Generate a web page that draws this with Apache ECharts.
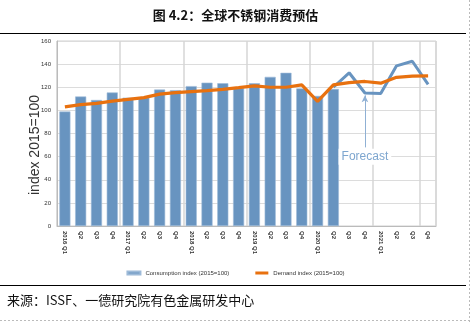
<!DOCTYPE html>
<html>
<head>
<meta charset="utf-8">
<script src="https://cdn.jsdelivr.net/npm/echarts@6/dist/echarts.min.js"></script>
<style>
html,body{margin:0;padding:0;background:#fff;}
#c{width:471px;height:322px;}
</style>
</head>
<body>
<div id="c"></div>
<script>
var categories = ['2016 Q1','Q2','Q3','Q4','2017 Q1','Q2','Q3','Q4','2018 Q1','Q2','Q3','Q4','2019 Q1','Q2','Q3','Q4','2020 Q1','Q2','Q3','Q4','2021 Q1','Q2','Q3','Q4'];
var consumption = [99,112,109,115.5,111,111,118,117.5,121,124,123.5,119.5,123.5,129,132.5,119,112.5,118.5,null,null,null,null,null,null];
var forecast = [null,null,null,null,null,null,null,null,null,null,null,null,null,null,null,null,null,120,132.5,115,114.5,138.5,142.5,122.5];
var demand = [103,105,106,108,109.5,111,114,115.3,116.2,117,118.2,119.6,121.2,120,120,122,107.8,122,124,125,123.5,128.6,129.6,129.8];
var yTicks = [0,20,40,60,80,100,120,140,160];

var chart = echarts.init(document.getElementById('c'));
chart.setOption({
  animation:false,
  textStyle:{fontFamily:'Liberation Sans, Arial, sans-serif'},
  graphic:[
    {type:'text',left:'center',top:9,style:{text:'图 4.2：全球不锈钢消费预估',font:'bold 13px "Noto Sans CJK SC"',fill:'#111'}},
    {type:'line',shape:{x1:0,y1:33.5,x2:466,y2:33.5},style:{stroke:'#000',lineWidth:1}},
    {type:'line',shape:{x1:0,y1:285.5,x2:466,y2:285.5},style:{stroke:'#000',lineWidth:1}},
    {type:'line',shape:{x1:469.5,y1:0,x2:469.5,y2:322},style:{stroke:'#bbb',lineWidth:1,lineDash:[2,2]}},
    {type:'line',shape:{x1:0,y1:320.5,x2:470,y2:320.5},style:{stroke:'#bbb',lineWidth:1,lineDash:[2,2]}},
    {type:'text',left:7,top:294,style:{text:'来源：ISSF、一德研究院有色金属研发中心',font:'13px "Noto Sans CJK SC"',fill:'#111'}},
    {type:'text',x:35,y:145,rotation:Math.PI/2,style:{text:'index 2015=100',font:'14px "Liberation Sans", Arial, sans-serif',fill:'#333',align:'center',verticalAlign:'middle'}}
  ],
  legend:{
    top:265,left:'center',itemWidth:13,itemHeight:3,itemGap:26,
    textStyle:{fontSize:6,color:'#333'},
    data:[{name:'Consumption index (2015=100)',icon:'rect'},{name:'Demand index (2015=100)',icon:'rect'}]
  },
  grid:{left:57,right:35,top:41,bottom:96,show:true,borderColor:'#d0d0d0',borderWidth:1},
  xAxis:{
    type:'category',data:categories,boundaryGap:true,
    axisLine:{lineStyle:{color:'#bbb'}},
    axisTick:{show:false},
    axisLabel:{rotate:-90,fontSize:6,color:'#333',fontWeight:'bold',interval:0,margin:5},
    splitLine:{show:true,interval:3,lineStyle:{color:'#d6d6d6',width:1.5}}
  },
  yAxis:{
    type:'value',min:0,max:160,interval:20,
    axisLine:{show:true,lineStyle:{color:'#bbb'}},
    axisTick:{show:false},
    axisLabel:{fontSize:6,color:'#333',margin:6,formatter:function(v){return yTicks.indexOf(v)>=0?String(v):'';}},
    splitLine:{lineStyle:{color:'#dcdcdc',width:1}}
  },
  series:[
    {name:'Consumption index (2015=100)',type:'bar',data:consumption,barCategoryGap:'30%',
     itemStyle:{color:'#6894c0',borderColor:'#9dbad8',borderWidth:0.6}},
    {name:'Forecast',type:'line',data:forecast,symbol:'none',connectNulls:false,
     lineStyle:{color:'#6894c0',width:3},itemStyle:{color:'#6894c0'},
     markLine:{silent:true,symbol:['none','arrow'],symbolSize:[5,7],
       lineStyle:{color:'#8fb0d4',width:1,type:'solid'},label:{show:false},
       data:[[{coord:[19,68]},{coord:[19,113]}]]},
     markPoint:{silent:true,symbol:'rect',symbolSize:1,itemStyle:{color:'rgba(0,0,0,0)'},
       label:{show:true,formatter:'Forecast',color:'#7ea6cf',fontSize:12,backgroundColor:'#fff',padding:[2,3],position:'inside'},
       data:[{coord:[18.6,60]}]}},
    {name:'Demand index (2015=100)',type:'line',data:demand,symbol:'none',
     lineStyle:{color:'#e8710f',width:3.2},itemStyle:{color:'#e8710f'}}
  ]
});
</script>
</body>
</html>
